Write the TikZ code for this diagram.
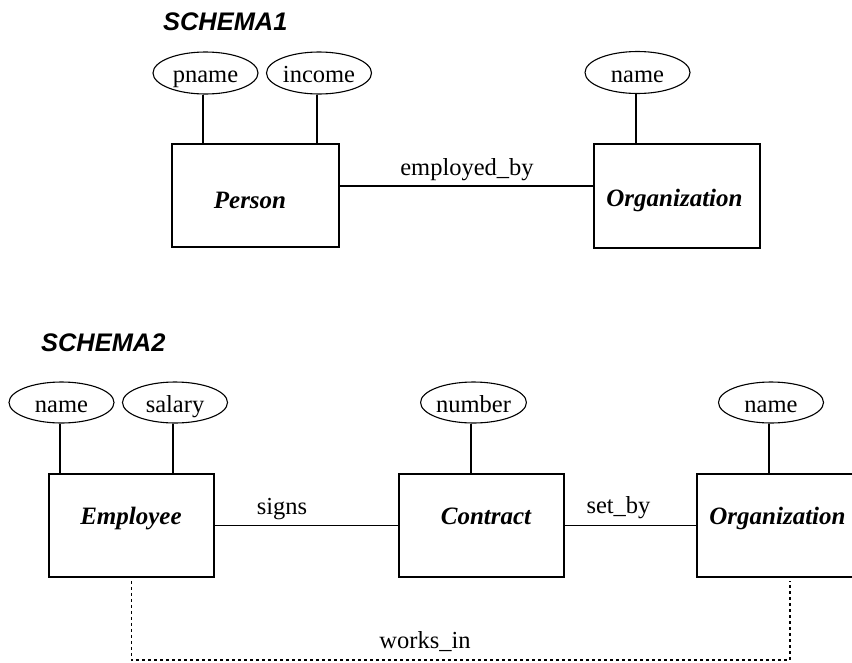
\documentclass[tikz,border=0pt]{standalone}
\usepackage{fontspec}
\setmainfont{Liberation Serif}
\newfontfamily\schemafont{Liberation Sans}
\usetikzlibrary{shapes.geometric}
\begin{document}
\begin{tikzpicture}[x=1pt,y=-1pt,
 ent/.style={draw, line width=1.6pt, inner sep=0pt},
 enttxt/.style={anchor=base, inner sep=0pt, font=\fontsize{25}{30}\selectfont\bfseries\itshape},
 attr/.style={draw, ellipse, line width=1.1pt, inner sep=0pt, minimum width=105pt, minimum height=42pt, text height=19pt, text depth=0pt, font=\fontsize{24.5}{29}\selectfont},
 conn/.style={line width=1.6pt},
 lbl/.style={anchor=base, inner sep=0pt, font=\fontsize{24.5}{29}\selectfont},
 ttl/.style={anchor=base west, inner sep=0pt, font=\fontsize{25.4}{30}\selectfont\schemafont\bfseries\itshape},
 rel2/.style={line width=1.4pt, dash pattern=on 3pt off 3pt}]
\useasboundingbox (0,0) rectangle (852,662);
\clip (0,0) rectangle (852,662);

% titles
\node[ttl] (s1) at (163,30) {SCHEMA1};
\node[ttl] (s2) at (41,351) {SCHEMA2};

% ---------- SCHEMA1 ----------
\node[ent, minimum width=167pt, minimum height=103pt] (person) at (255.5,195.5) {};
\node[enttxt] (tperson) at (250,208) {Person};
\node[ent, minimum width=166pt, minimum height=104pt] (org1) at (677,196) {};
\node[enttxt] (torg1) at (674.5,206) {Organization};

\node[attr] (pname) at (205.5,73) {pname};
\node[attr] (income) at (319,73) {income};
\node[attr] (name1) at (637.5,72.5) {name};

\coordinate (pa) at ([xshift=-2.5pt]pname.south);
\coordinate (ia) at ([xshift=-2pt]income.south);
\coordinate (na) at ([xshift=-1.5pt]name1.south);
\draw[conn] (pa) -- (pa |- person.north);
\draw[conn] (ia) -- (ia |- person.north);
\draw[conn] (na) -- (na |- org1.north);

\coordinate (e1) at ([yshift=9.5pt]person.east);
\draw[conn] (e1) -- (e1 -| org1.west);
\node[lbl] (lemp) at (467,175) {employed\_by};

% ---------- SCHEMA2 ----------
\node[ent, minimum width=165pt, minimum height=103pt] (emp) at (131.5,525.5) {};
\node[enttxt] (temp) at (131,524) {Employee};
\node[ent, minimum width=165pt, minimum height=103pt] (con) at (481.5,525.5) {};
\node[enttxt] (tcon) at (486,524) {Contract};
\node[ent, minimum width=161pt, minimum height=103pt] (org2) at (777.5,525.5) {};
\node[enttxt] (torg2) at (777.5,524) {Organization};

\node[attr, minimum height=41pt] (name2) at (61.5,402.5) {name};
\node[attr, minimum height=41pt] (salary) at (175,402.5) {salary};
\node[attr, minimum height=41pt] (number) at (473.5,402.5) {number};
\node[attr, minimum height=41pt] (name3) at (771,402.5) {name};

\coordinate (n2a) at ([xshift=-1.5pt]name2.south);
\coordinate (sa) at ([xshift=-2pt]salary.south);
\coordinate (nua) at ([xshift=-2.5pt]number.south);
\coordinate (n3a) at ([xshift=-2pt]name3.south);
\draw[conn] (n2a) -- (n2a |- emp.north);
\draw[conn] (sa) -- (sa |- emp.north);
\draw[conn] (nua) -- (nua |- con.north);
\draw[conn] (n3a) -- (n3a |- org2.north);

\draw[conn] (emp.east) -- (con.west);
\node[lbl] (lsigns) at (282,514) {signs};
\draw[conn] (con.east) -- (org2.west);
\node[lbl] (lset) at (618.5,513) {set\_by};

\coordinate (wr) at (790,660);
\draw[rel2] ([yshift=-3pt]emp.south) |- (wr) -- ([yshift=-3pt]wr |- org2.south);
\node[lbl] (lwork) at (425,648) {works\_in};
\end{tikzpicture}
\end{document}
